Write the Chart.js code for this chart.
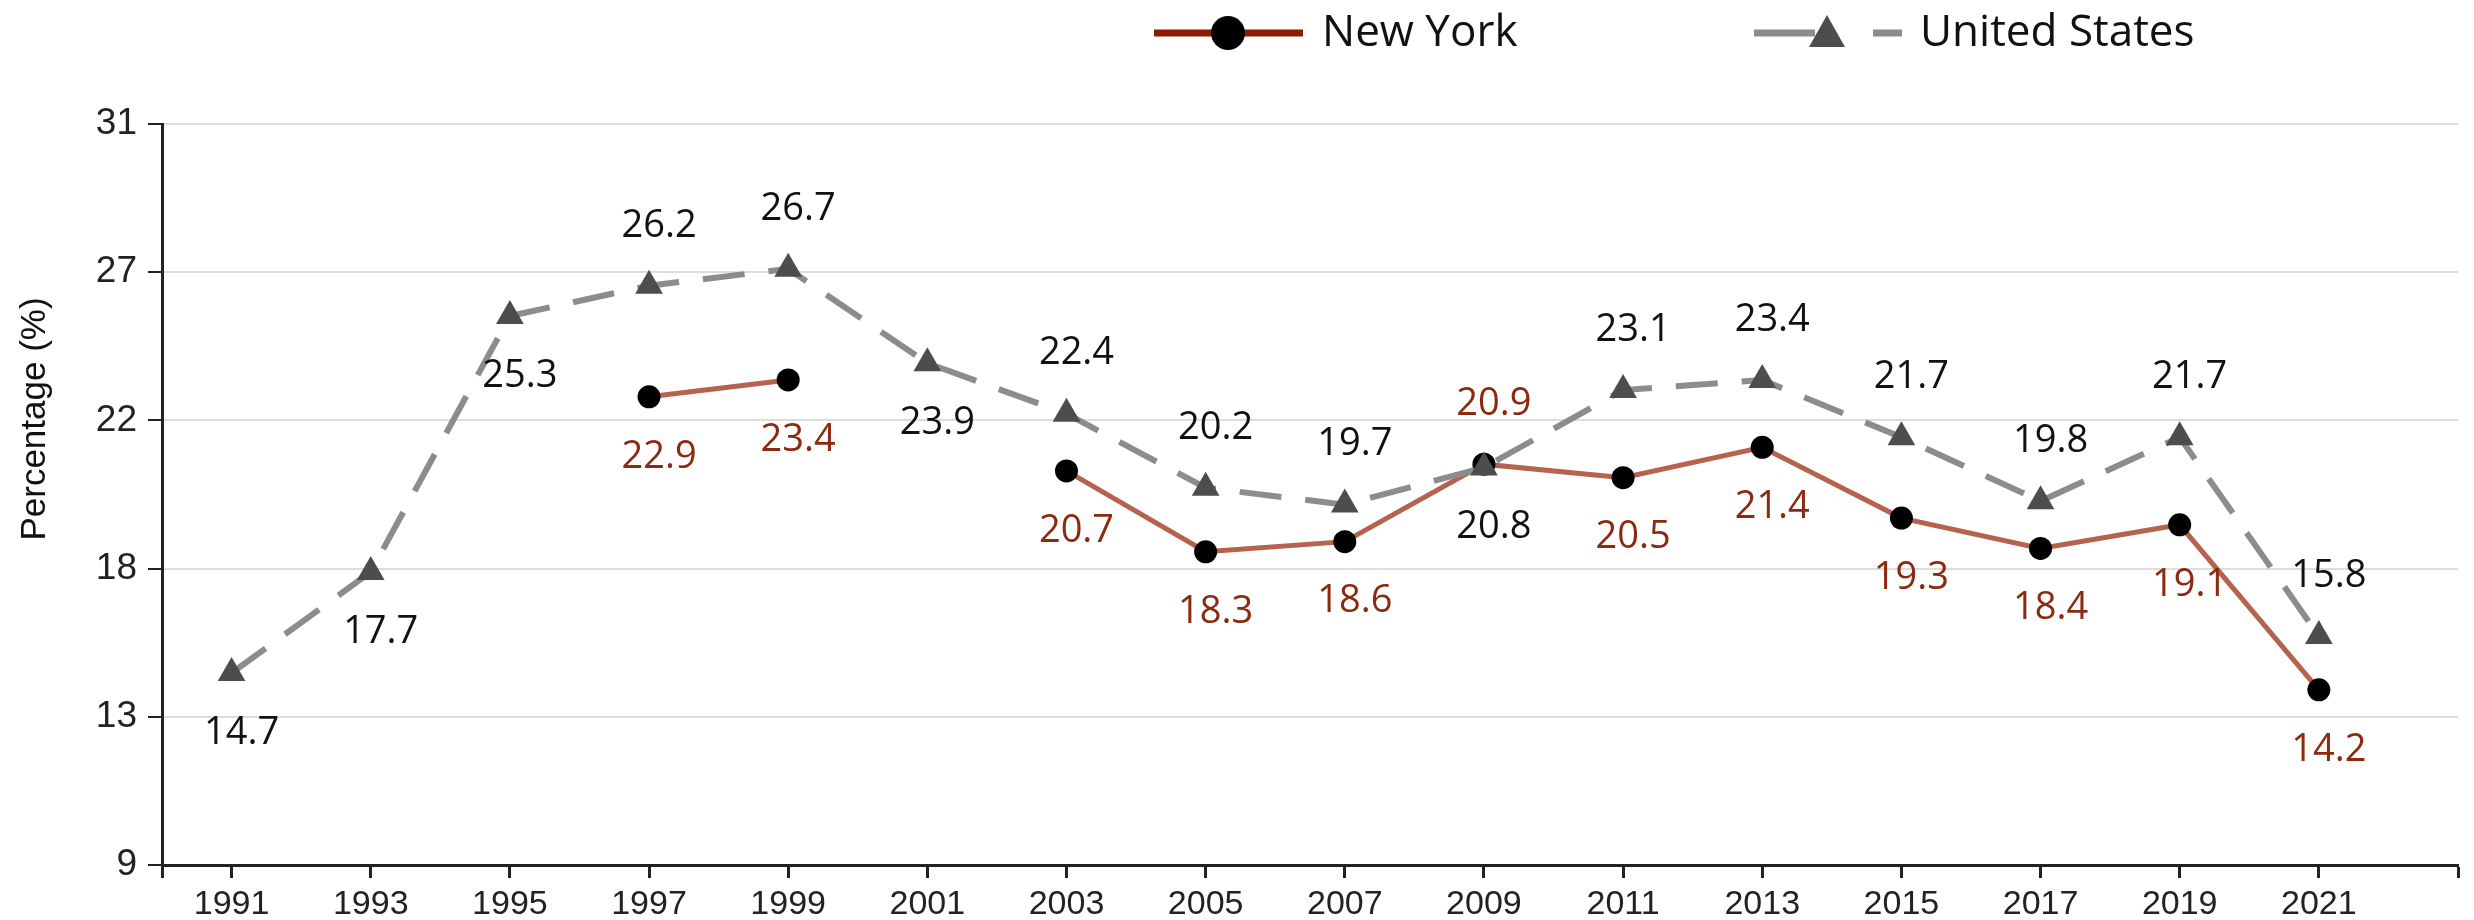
<!DOCTYPE html>
<html>
<head>
<meta charset="utf-8">
<title>New York vs United States</title>
<script src="https://cdn.jsdelivr.net/npm/chart.js@4.4.1/dist/chart.umd.min.js"></script>
<style>
  html, body { margin: 0; padding: 0; background: #fff; }
  #wrap { width: 2474px; height: 920px; }
</style>
</head>
<body>
<div id="wrap"><canvas id="chart" width="2474" height="920"></canvas></div>
<script>
// survey years and values
const years = [1991, 1993, 1995, 1997, 1999, 2001, 2003, 2005, 2007, 2009, 2011, 2013, 2015, 2017, 2019, 2021];
const newYork = [null, null, null, 22.9, 23.4, null, 20.7, 18.3, 18.6, 20.9, 20.5, 21.4, 19.3, 18.4, 19.1, 14.2];
const unitedStates = [14.7, 17.7, 25.3, 26.2, 26.7, 23.9, 22.4, 20.2, 19.7, 20.8, 23.1, 23.4, 21.7, 19.8, 21.7, 15.8];

// axis ticks
const xTickValues = [1990, ...years, 2023];
const yTickValues = [9, 13.4, 17.8, 22.2, 26.6, 31];
const yTickLabels = ['9', '13', '18', '22', '27', '31'];

// years where the value label sits on the other side of the point
const usLabelBelow = [1991, 1993, 1995, 2001, 2009];
const nyLabelAbove = [2009];

const toPoints = (vals) => years.map((x, i) => ({ x: x, y: vals[i] }));

// value labels next to each point
const valueLabels = {
  id: 'valueLabels',
  afterDatasetsDraw(chart) {
    const ctx = chart.ctx;
    ctx.save();
    ctx.font = '38px "Open Sans"';
    ctx.textAlign = 'center';
    ctx.textBaseline = 'middle';
    chart.data.datasets.forEach((ds, i) => {
      const meta = chart.getDatasetMeta(i);
      meta.data.forEach((pt, j) => {
        const d = ds.data[j];
        if (d.y == null) return;
        const above = ds.labelAbove(d.x);
        ctx.fillStyle = ds.labelColor;
        ctx.fillText(d.y.toFixed(1), pt.x + 10, pt.y + (above ? -60 : 60));
      });
    });
    ctx.restore();
  }
};

// legend + y axis title
const decorations = {
  id: 'decorations',
  afterDraw(chart) {
    const ctx = chart.ctx;
    ctx.save();
    const ly = 33;

    // New York entry
    ctx.strokeStyle = '#8B1A00';
    ctx.lineWidth = 7;
    ctx.beginPath();
    ctx.moveTo(1154, ly);
    ctx.lineTo(1303, ly);
    ctx.stroke();
    ctx.fillStyle = '#000';
    ctx.beginPath();
    ctx.arc(1228, ly, 17, 0, Math.PI * 2);
    ctx.fill();

    // United States entry
    ctx.strokeStyle = '#8C8C8C';
    ctx.beginPath();
    ctx.moveTo(1754, ly);
    ctx.lineTo(1815, ly);
    ctx.moveTo(1873, ly);
    ctx.lineTo(1902, ly);
    ctx.stroke();
    ctx.fillStyle = '#4D4D4D';
    ctx.beginPath();
    ctx.moveTo(1827, ly - 18);
    ctx.lineTo(1845, ly + 14);
    ctx.lineTo(1809, ly + 14);
    ctx.closePath();
    ctx.fill();

    ctx.fillStyle = '#111';
    ctx.font = '44px "Open Sans"';
    ctx.textAlign = 'left';
    ctx.textBaseline = 'middle';
    ctx.fillText('New York', 1322, ly);
    ctx.fillText('United States', 1920, ly);

    // y axis title
    ctx.translate(35, 419);
    ctx.rotate(-Math.PI / 2);
    ctx.textAlign = 'center';
    ctx.font = '35px "Liberation Sans", Arial, sans-serif';
    ctx.fillText('Percentage (%)', 0, 0);
    ctx.restore();
  }
};

const ctx = document.getElementById('chart').getContext('2d');
new Chart(ctx, {
  type: 'line',
  data: {
    datasets: [
      {
        label: 'New York',
        data: toPoints(newYork),
        order: 1,
        borderColor: '#B5624F',
        borderWidth: 5,
        pointRadius: 11.5,
        pointBackgroundColor: '#000',
        pointBorderWidth: 0,
        spanGaps: false,
        tension: 0,
        labelColor: '#8B2A0E',
        labelAbove: (yr) => nyLabelAbove.includes(yr)
      },
      {
        label: 'United States',
        data: toPoints(unitedStates),
        order: 0,
        borderColor: '#8C8C8C',
        borderWidth: 6,
        borderDash: [42, 24],
        pointStyle: 'triangle',
        pointRadius: 16,
        pointBackgroundColor: '#4D4D4D',
        pointBorderWidth: 0,
        tension: 0,
        labelColor: '#111',
        labelAbove: (yr) => !usLabelBelow.includes(yr)
      }
    ]
  },
  options: {
    responsive: false,
    animation: false,
    layout: { padding: { top: 124, right: 3, left: 0, bottom: 0 } },
    plugins: {
      legend: { display: false },
      tooltip: { enabled: false }
    },
    scales: {
      x: {
        type: 'linear',
        min: 1990,
        max: 2023,
        afterBuildTicks: (scale) => { scale.ticks = xTickValues.map(v => ({ value: v })); },
        afterFit: (scale) => { scale.height = 55; },
        grid: {
          display: true,
          drawOnChartArea: false,
          drawTicks: true,
          tickLength: 13,
          tickColor: '#222',
          tickWidth: 3
        },
        border: { display: true, color: '#222', width: 3 },
        ticks: {
          autoSkip: false,
          maxRotation: 0,
          minRotation: 0,
          padding: 6,
          color: '#222',
          font: { family: '"Liberation Sans", Arial, sans-serif', size: 34 },
          callback: (v) => years.includes(v) ? String(v) : ''
        }
      },
      y: {
        type: 'linear',
        min: 9,
        max: 31,
        afterBuildTicks: (scale) => { scale.ticks = yTickValues.map(v => ({ value: v })); },
        afterFit: (scale) => { scale.width = 162; },
        grid: {
          color: '#DDDDDD',
          lineWidth: 2,
          drawTicks: true,
          tickLength: 14,
          tickColor: '#222',
          tickWidth: 2
        },
        border: { display: true, color: '#222', width: 3 },
        ticks: {
          padding: 11,
          color: '#222',
          font: { family: '"Liberation Sans", Arial, sans-serif', size: 37 },
          callback: (v, i) => yTickLabels[i]
        }
      }
    }
  },
  plugins: [valueLabels, decorations]
});
</script>
</body>
</html>
